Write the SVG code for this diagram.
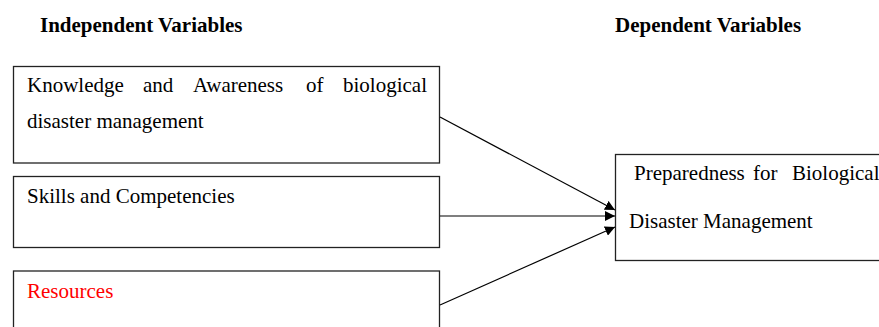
<svg xmlns="http://www.w3.org/2000/svg" width="879" height="327" viewBox="0 0 879 327">
<style>
text{font-family:"Liberation Serif","Times New Roman",serif;font-size:21px;fill:#000}
.h{font-weight:bold}
.box{fill:#fff;stroke:#222;stroke-width:1.3}
.c{stroke:#000;stroke-width:1.2;fill:none}
</style>
<defs>
<marker id="ah" viewBox="0 0 10 10" refX="10" refY="5" markerWidth="10" markerHeight="10" markerUnits="userSpaceOnUse" orient="auto">
<path d="M0,0 L10,5 L0,10 Z" fill="#000"/>
</marker>
</defs>
<rect width="879" height="327" fill="#fff"/>
<text class="h" x="40" y="32">Independent Variables</text>
<text class="h" x="615" y="32">Dependent Variables</text>
<g id="knowledge">
<rect class="box" x="13.5" y="66.5" width="426" height="96.5"/>
<text y="92"><tspan x="27">Knowledge</tspan><tspan x="143">and</tspan><tspan x="193">Awareness</tspan><tspan x="306">of</tspan><tspan x="343">biological</tspan></text>
<text x="27" y="128">disaster management</text>
</g>
<g id="skills">
<rect class="box" x="13.5" y="176.5" width="426" height="71"/>
<text x="27" y="203">Skills and Competencies</text>
</g>
<g id="resources">
<rect class="box" x="13.5" y="271" width="426" height="70"/>
<text x="27" y="298" style="fill:#f00">Resources</text>
</g>
<g id="preparedness">
<rect class="box" x="615.5" y="154.5" width="280" height="106"/>
<text y="180"><tspan x="634">Preparedness</tspan><tspan x="753">for</tspan><tspan x="792">Biological</tspan></text>
<text x="629" y="228">Disaster Management</text>
</g>
<g id="connectors">
<line class="c" x1="440" y1="117" x2="615" y2="210" marker-end="url(#ah)"/>
<line class="c" x1="440" y1="216" x2="615" y2="216" marker-end="url(#ah)"/>
<line class="c" x1="440" y1="305" x2="615" y2="227" marker-end="url(#ah)"/>
</g>
</svg>
